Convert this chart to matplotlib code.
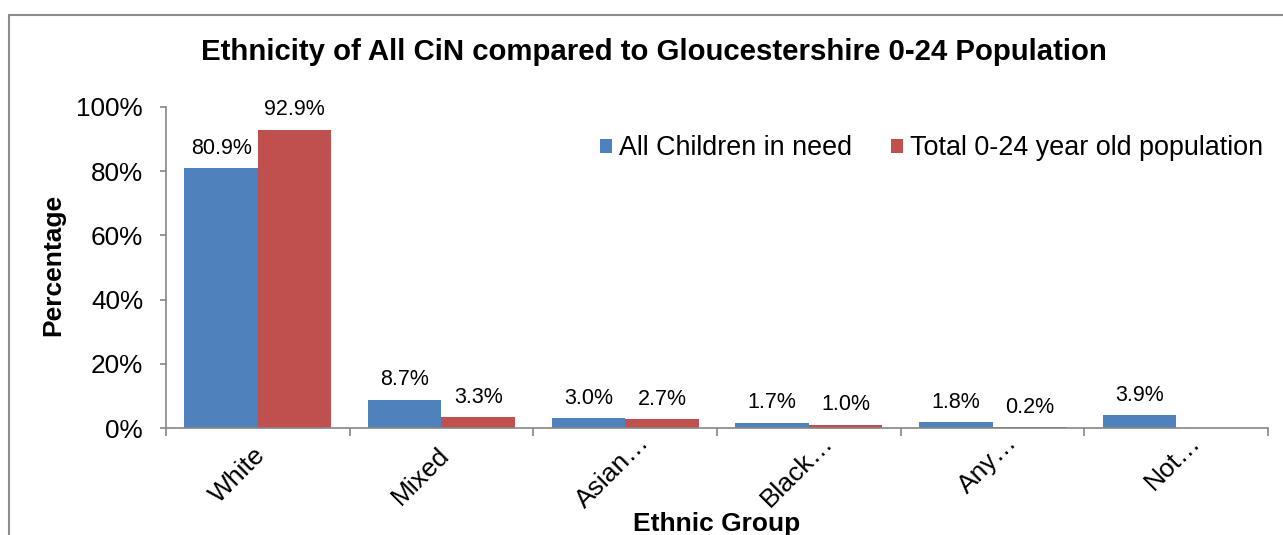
import numpy as np
import matplotlib
matplotlib.use("Agg")
import matplotlib.pyplot as plt
import matplotlib.transforms as mtransforms
from matplotlib.patches import Rectangle
from matplotlib.ticker import FixedLocator, PercentFormatter

plt.rcParams['font.family'] = ['Liberation Sans', 'DejaVu Sans']

categories = ["White", "Mixed", "Asian…", "Black…", "Any…", "Not…"]
cin_values = [80.9, 8.7, 3.0, 1.7, 1.8, 3.9]
pop_values = [92.9, 3.3, 2.7, 1.0, 0.2, np.nan]
series_names = ["All Children in need", "Total 0-24 year old population"]
y_ticks = [0, 20, 40, 60, 80, 100]

blue = "#4F81BD"
red = "#C0504D"
axis_grey = "#868686"

W, H = 1283, 535
fig = plt.figure(figsize=(W / 100, H / 100), dpi=100)
fig.patch.set_facecolor("white")

# chart-area frame, running off the right and bottom edges
fig.patches.append(Rectangle((9 / W, -0.1), 1.2, 1.1 - 15 / H,
                             transform=fig.transFigure, fill=False,
                             edgecolor="#8c8c8c", linewidth=1.5))

ax = fig.add_axes([166 / W, (H - 428) / H, (1268 - 166) / W, (428 - 107) / H])

x = np.arange(len(categories))
bw = 0.4
b1 = ax.bar(x - bw / 2, cin_values, bw, color=blue, label=series_names[0])
b2 = ax.bar(x + bw / 2, pop_values, bw, color=red, label=series_names[1])

for bars, vals in ((b1, cin_values), (b2, pop_values)):
    for rect, v in zip(bars, vals):
        if np.isnan(v):
            continue
        ax.annotate(f"{v:.1f}%", (rect.get_x() + rect.get_width() / 2, v),
                    xytext=(0, 10.5), textcoords="offset points",
                    ha="center", va="baseline", fontsize=15.5, color="black")

ax.set_xlim(-0.5, len(categories) - 0.5)
ax.set_ylim(0, 100)
ax.set_yticks(y_ticks)
ax.yaxis.set_major_formatter(PercentFormatter(decimals=0))
ax.tick_params(axis="y", length=4.5, width=1.2, color=axis_grey, pad=12,
               labelsize=18.8)

ax.set_xticks(x)
ax.set_xticklabels(categories, rotation=45, ha="right", fontsize=19)
ax.tick_params(axis="x", which="major", length=0, pad=11)
# truncated labels sit further up and to the right of their category centre
for lbl in ax.get_xticklabels():
    if lbl.get_text().endswith("…"):
        dx, dy = 21 / 72, 9.5 / 72
    else:
        dx, dy = 9 / 72, 0
    shift = mtransforms.ScaledTranslation(dx, dy, fig.dpi_scale_trans)
    lbl.set_transform(lbl.get_transform() + shift)
ax.xaxis.set_minor_locator(FixedLocator(np.arange(-0.5, len(categories), 1.0)))
ax.tick_params(axis="x", which="minor", length=6, width=1.2, color=axis_grey)

for s in ("top", "right"):
    ax.spines[s].set_visible(False)
for s in ("left", "bottom"):
    ax.spines[s].set_color(axis_grey)
    ax.spines[s].set_linewidth(1.2)

fig.text(53 / W, (H - 265) / H, "Percentage", fontsize=19, fontweight="bold",
         rotation=90, ha="center", va="center")

fig.text(717 / W, (H - 531) / H, "Ethnic Group", fontsize=19,
         fontweight="bold", ha="center", va="baseline")

fig.text(654 / W, (H - 52) / H,
         "Ethnicity of All CiN compared to Gloucestershire 0-24 Population",
         fontsize=21.2, fontweight="bold", ha="center", va="center")

ax.legend(loc="upper right", bbox_to_anchor=(1.0 + 6 / 1102, 0.945), ncol=2,
          frameon=False, fontsize=19.4, handlelength=0.45, handleheight=0.45,
          handletextpad=0.25, columnspacing=1.45, borderaxespad=0)

fig.savefig("out.png", dpi=100)
